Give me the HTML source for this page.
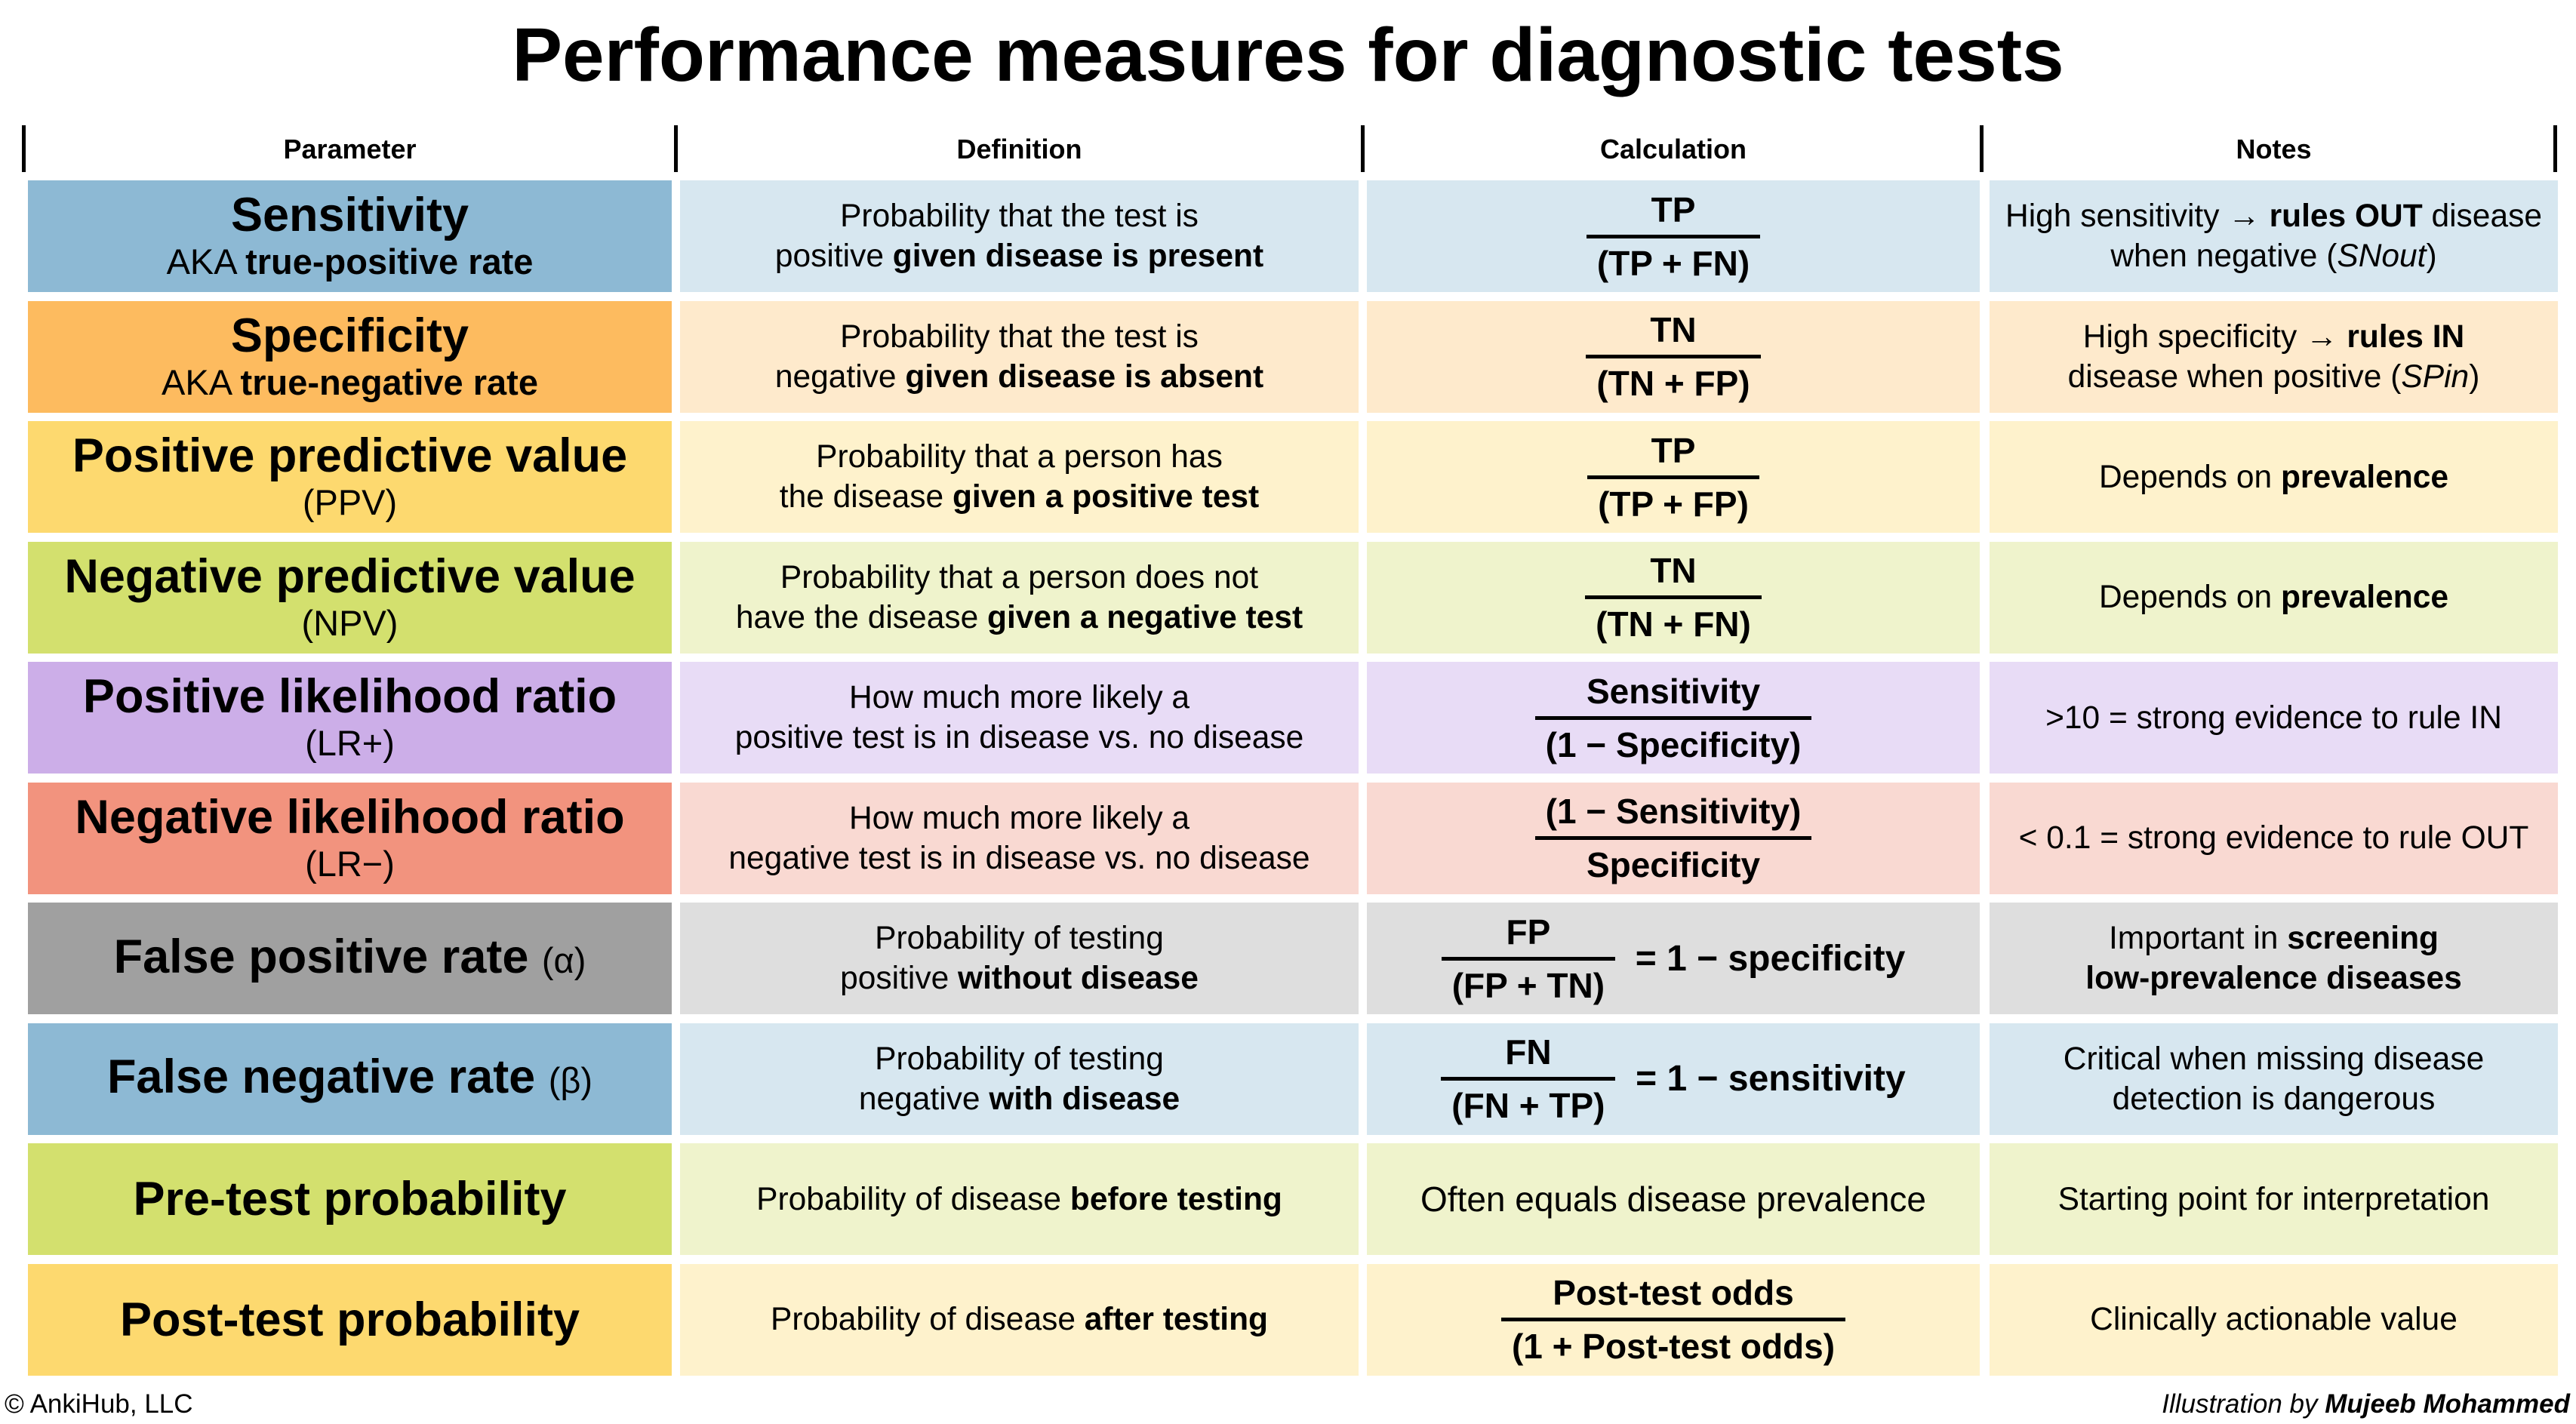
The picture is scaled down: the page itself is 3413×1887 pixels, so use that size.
<!DOCTYPE html>
<html><head><meta charset="utf-8"><style>
*{margin:0;padding:0;box-sizing:border-box}
body{width:3413px;height:1887px;background:#fff;font-family:"Liberation Sans",Arial,sans-serif;color:#000;position:relative;overflow:hidden}
.title{position:absolute;left:0;width:3413px;top:18px;text-align:center;font-size:100px;font-weight:bold;line-height:110px}
.hl{position:absolute;top:166px;height:62px;width:5px;background:#000}
.hd{position:absolute;top:178px;font-size:36px;font-weight:bold;text-align:center;line-height:40px}
.c{position:absolute;height:148px;display:flex;align-items:center;justify-content:center;text-align:center;font-size:42.5px;line-height:53px}
.p1{font-size:63px;font-weight:bold;line-height:68px}
.p2{font-size:47px;line-height:56px}
.fr{display:inline-flex;flex-direction:column;align-items:stretch;text-align:center;font-weight:bold;font-size:46px;line-height:54px}
.fr .n{padding:0 14px 6px}
.fr .d{border-top:5px solid #000;padding:6px 14px 0}
.row{display:flex;align-items:center;font-weight:bold;font-size:48px}
.foot{position:absolute;top:1840px;font-size:35px;line-height:42px}
</style></head><body>
<div class="title">Performance measures for diagnostic tests</div>
<div class="hl" style="left:29px"></div><div class="hl" style="left:893px"></div><div class="hl" style="left:1803px"></div><div class="hl" style="left:2623px"></div><div class="hl" style="left:3383px"></div>
<div class="hd" style="left:37px;width:853px">Parameter</div>
<div class="hd" style="left:901px;width:899px">Definition</div>
<div class="hd" style="left:1811px;width:812px">Calculation</div>
<div class="hd" style="left:2636px;width:753px">Notes</div>
<div id="rows"></div>
<script>
const R=[
["#8db9d4","#d7e7f0",'<div class="p1">Sensitivity</div><div class="p2">AKA <b>true-positive rate</b></div>','Probability that the test is<br>positive <b>given disease is present</b>','<div class="fr"><div class="n">TP</div><div class="d">(TP + FN)</div></div>','High sensitivity → <b>rules OUT</b> disease<br>when negative (<i>SNout</i>)'],
["#fdbb5f","#feeacc",'<div class="p1">Specificity</div><div class="p2">AKA <b>true-negative rate</b></div>','Probability that the test is<br>negative <b>given disease is absent</b>','<div class="fr"><div class="n">TN</div><div class="d">(TN + FP)</div></div>','High specificity → <b>rules IN</b><br>disease when positive (<i>SPin</i>)'],
["#fdd96f","#fef2cc",'<div class="p1">Positive predictive value</div><div class="p2">(PPV)</div>','Probability that a person has<br>the disease <b>given a positive test</b>','<div class="fr"><div class="n">TP</div><div class="d">(TP + FP)</div></div>','Depends on <b>prevalence</b>'],
["#d3e06e","#eff3cc",'<div class="p1">Negative predictive value</div><div class="p2">(NPV)</div>','Probability that a person does not<br>have the disease <b>given a negative test</b>','<div class="fr"><div class="n">TN</div><div class="d">(TN + FN)</div></div>','Depends on <b>prevalence</b>'],
["#ccaee8","#e8dcf6",'<div class="p1">Positive likelihood ratio</div><div class="p2">(LR+)</div>','How much more likely a<br>positive test is in disease vs. no disease','<div class="fr"><div class="n">Sensitivity</div><div class="d">(1 − Specificity)</div></div>','&gt;10 = strong evidence to rule IN'],
["#f2937e","#f9d9d2",'<div class="p1">Negative likelihood ratio</div><div class="p2">(LR−)</div>','How much more likely a<br>negative test is in disease vs. no disease','<div class="fr"><div class="n">(1 − Sensitivity)</div><div class="d">Specificity</div></div>','&lt; 0.1 = strong evidence to rule OUT'],
["#a0a0a0","#dedede",'<div class="p1">False positive rate <span style="font-weight:normal;font-size:47px">(α)</span></div>','Probability of testing<br>positive <b>without disease</b>','<div class="row"><div class="fr"><div class="n">FP</div><div class="d">(FP + TN)</div></div>&nbsp;&nbsp;= 1 − specificity</div>','Important in <b>screening<br>low-prevalence diseases</b>'],
["#8db9d4","#d7e7f0",'<div class="p1">False negative rate <span style="font-weight:normal;font-size:47px">(β)</span></div>','Probability of testing<br>negative <b>with disease</b>','<div class="row"><div class="fr"><div class="n">FN</div><div class="d">(FN + TP)</div></div>&nbsp;&nbsp;= 1 − sensitivity</div>','Critical when missing disease<br>detection is dangerous'],
["#d3e06e","#eff3cc",'<div class="p1">Pre-test probability</div>','Probability of disease <b>before testing</b>','<div style="font-size:46px">Often equals disease prevalence</div>','Starting point for interpretation'],
["#fdd96f","#fef2cc",'<div class="p1">Post-test probability</div>','Probability of disease <b>after testing</b>','<div class="fr"><div class="n">Post-test odds</div><div class="d">(1 + Post-test odds)</div></div>','Clinically actionable value']];
const cols=[[37,853],[901,899],[1811,812],[2636,753]];
let h='';
R.forEach((r,i)=>{const t=239+i*159.5;
for(let j=0;j<4;j++){const bg=j==0?r[0]:r[1];h+=`<div class="c" style="left:${cols[j][0]}px;width:${cols[j][1]}px;top:${t}px;background:${bg}"><div>${r[j+2]}</div></div>`;}});
document.getElementById('rows').innerHTML=h;
</script>
<div class="foot" style="left:6px">© AnkiHub, LLC</div>
<div class="foot" style="right:8px;font-style:italic">Illustration by <b>Mujeeb Mohammed</b></div>
</body></html>
